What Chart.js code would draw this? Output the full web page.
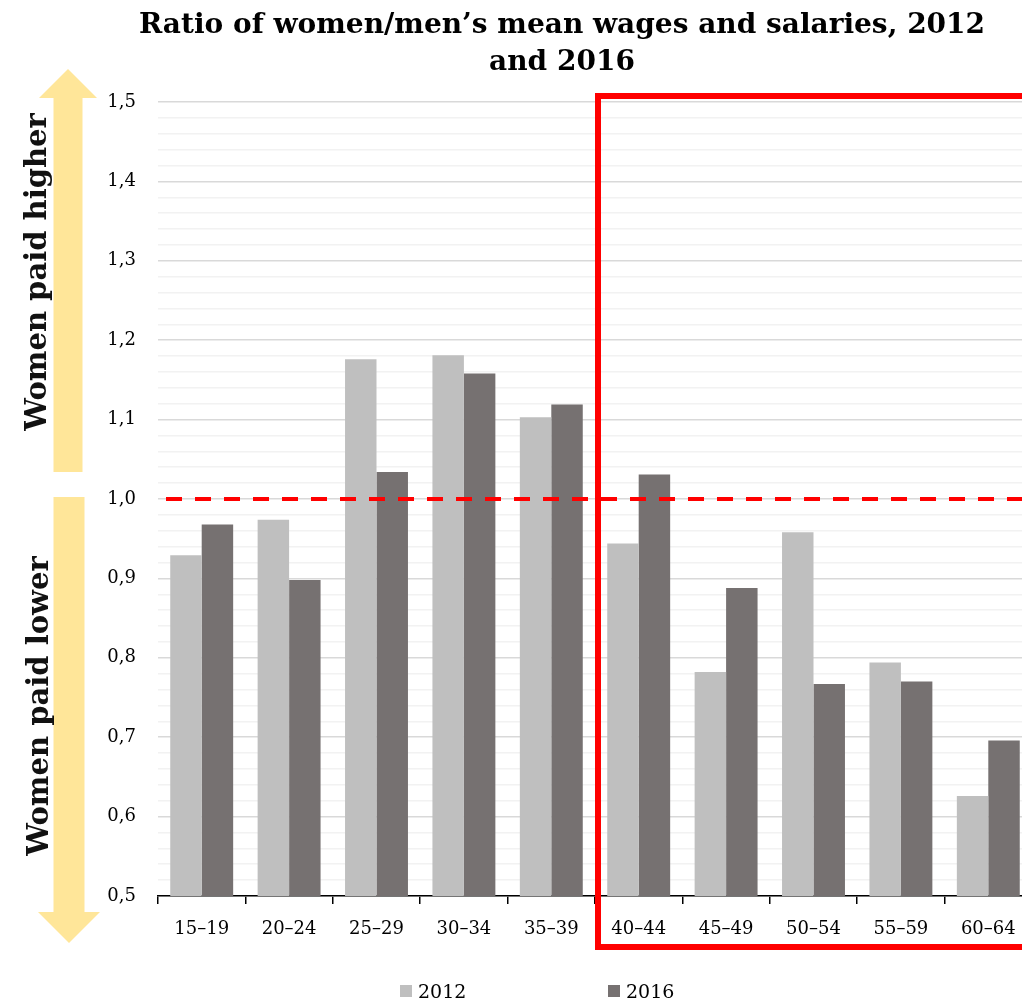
<!DOCTYPE html>
<html>
<head>
<meta charset="utf-8">
<title>Ratio of women/men’s mean wages and salaries</title>
<script src="https://cdn.jsdelivr.net/npm/chart.js@4.4.1/dist/chart.umd.min.js"></script>
<style>
  body { margin: 0; background: #fff; overflow: hidden; }
  #wrap { position: relative; width: 1022px; height: 1000px; overflow: hidden; }
  #box { position: absolute; left: 0; top: 0; width: 1032px; height: 1000px; }
  #title { position: absolute; left: 0; top: 5px; width: 1124px; text-align: center;
           font: bold 28px 'DejaVu Serif', serif; line-height: 37px; color: #000; }
  #legend { position: absolute; left: 0; top: 981px; width: 1022px; height: 19px;
            font: 19px 'DejaVu Serif', serif; color: #000; }
  .item { position: absolute; top: 0; height: 19px; display: flex; align-items: center; }
  .swatch { width: 12px; height: 12px; margin-right: 6px; }
</style>
</head>
<body>
<div id="wrap">
  <div id="box"><canvas id="wageChart"></canvas></div>
  <div id="title">Ratio of women/men’s mean wages and salaries, 2012<br>and 2016</div>
  <div id="legend"></div>
</div>
<script>
// age groups and women/men wage ratios
const ageGroups = ['15–19', '20–24', '25–29', '30–34', '35–39', '40–44', '45–49', '50–54', '55–59', '60–64'];
const ratio2012 = [0.929, 0.974, 1.176, 1.181, 1.103, 0.944, 0.782, 0.958, 0.794, 0.626];
const ratio2016 = [0.968, 0.898, 1.034, 1.158, 1.119, 1.031, 0.888, 0.767, 0.770, 0.696];
const seriesNames = ['2012', '2016'];
const seriesColors = ['#bfbfbf', '#767171'];
const parity = 1.0;

const serif = "'DejaVu Serif', serif";
const isMajor = v => Math.abs(v * 10 - Math.round(v * 10)) < 1e-6;

// parity line, highlight box and the two yellow arrows
const decorations = {
  id: 'decorations',
  afterDatasetsDraw(chart) {
    const { ctx, chartArea, scales: { x, y } } = chart;
    const yOne = y.getPixelForValue(parity);
    ctx.save();

    ctx.strokeStyle = '#ff0000';
    ctx.lineWidth = 4;
    ctx.setLineDash([16, 13]);
    ctx.beginPath();
    ctx.moveTo(chartArea.left + 8, yOne);
    ctx.lineTo(chart.width, yOne);
    ctx.stroke();

    ctx.setLineDash([]);
    ctx.lineWidth = 6;
    const boxLeft = (x.getPixelForValue(4) + x.getPixelForValue(5)) / 2 + 3;
    const boxTop = chartArea.top - 6;
    const boxBottom = chartArea.bottom + 51;
    ctx.strokeRect(boxLeft, boxTop, chart.width, boxBottom - boxTop);

    // arrows
    ctx.fillStyle = '#ffe699';
    const up = { cx: 68, tip: chartArea.top - 33, base: chartArea.top - 4, end: yOne - 27 };
    ctx.beginPath();
    ctx.moveTo(up.cx, up.tip);
    ctx.lineTo(up.cx + 29, up.base);
    ctx.lineTo(up.cx + 14.5, up.base);
    ctx.lineTo(up.cx + 14.5, up.end);
    ctx.lineTo(up.cx - 14.5, up.end);
    ctx.lineTo(up.cx - 14.5, up.base);
    ctx.lineTo(up.cx - 29, up.base);
    ctx.closePath();
    ctx.fill();

    const down = { cx: 69, start: yOne - 2, base: chartArea.bottom + 16, tip: chartArea.bottom + 47 };
    ctx.beginPath();
    ctx.moveTo(down.cx - 15.5, down.start);
    ctx.lineTo(down.cx + 15.5, down.start);
    ctx.lineTo(down.cx + 15.5, down.base);
    ctx.lineTo(down.cx + 31, down.base);
    ctx.lineTo(down.cx, down.tip);
    ctx.lineTo(down.cx - 31, down.base);
    ctx.lineTo(down.cx - 15.5, down.base);
    ctx.closePath();
    ctx.fill();

    // rotated captions
    ctx.fillStyle = '#111';
    ctx.font = 'bold 29px ' + serif;
    ctx.textAlign = 'center';
    ctx.textBaseline = 'middle';
    [['Women paid higher', 38, 272], ['Women paid lower', 40, 706]].forEach(([txt, tx, ty]) => {
      ctx.save();
      ctx.translate(tx, ty);
      ctx.rotate(-Math.PI / 2);
      ctx.fillText(txt, 0, 0);
      ctx.restore();
    });
    ctx.restore();
  }
};

const ctx = document.getElementById('wageChart').getContext('2d');
const wageChart = new Chart(ctx, {
  type: 'bar',
  data: {
    labels: ageGroups,
    datasets: [{
      label: seriesNames[0],
      data: ratio2012,
      backgroundColor: seriesColors[0],
      borderWidth: 0
    }, {
      label: seriesNames[1],
      data: ratio2016,
      backgroundColor: seriesColors[1],
      borderWidth: 0
    }]
  },
  options: {
    responsive: true,
    maintainAspectRatio: false,
    animation: false,
    categoryPercentage: 0.72,
    barPercentage: 1.0,
    layout: { padding: { top: 102, bottom: 64, left: 0, right: 0 } },
    plugins: {
      legend: { display: false },
      title: { display: false },
      tooltip: { enabled: false }
    },
    scales: {
      x: {
        afterFit: s => { s.height = 40; },
        grid: { drawOnChartArea: false, offset: true, tickLength: 8, color: '#000', lineWidth: 1.5 },
        border: { color: '#000', width: 1.5 },
        ticks: { color: '#000', padding: 15, maxRotation: 0, autoSkip: false, font: { family: serif, size: 18 } }
      },
      y: {
        min: 0.5,
        max: 1.5,
        afterFit: s => { s.width = 158; },
        border: { display: false },
        grid: {
          drawTicks: false,
          lineWidth: 1.5,
          color: c => isMajor(c.tick.value) ? '#d9d9d9' : '#f2f2f2'
        },
        ticks: {
          stepSize: 0.02,
          autoSkip: false,
          padding: 22,
          color: '#000',
          font: { family: serif, size: 18 },
          callback: v => isMajor(v) ? v.toFixed(1).replace('.', ',') : ''
        }
      }
    }
  },
  plugins: [decorations]
});

// legend row under the axis
const legend = document.getElementById('legend');
[400, 608].forEach((left, i) => {
  const item = document.createElement('div');
  item.className = 'item';
  item.style.left = left + 'px';
  item.innerHTML = '<span class="swatch" style="background:' + seriesColors[i] + '"></span>' + seriesNames[i];
  legend.appendChild(item);
});
</script>
</body>
</html>
